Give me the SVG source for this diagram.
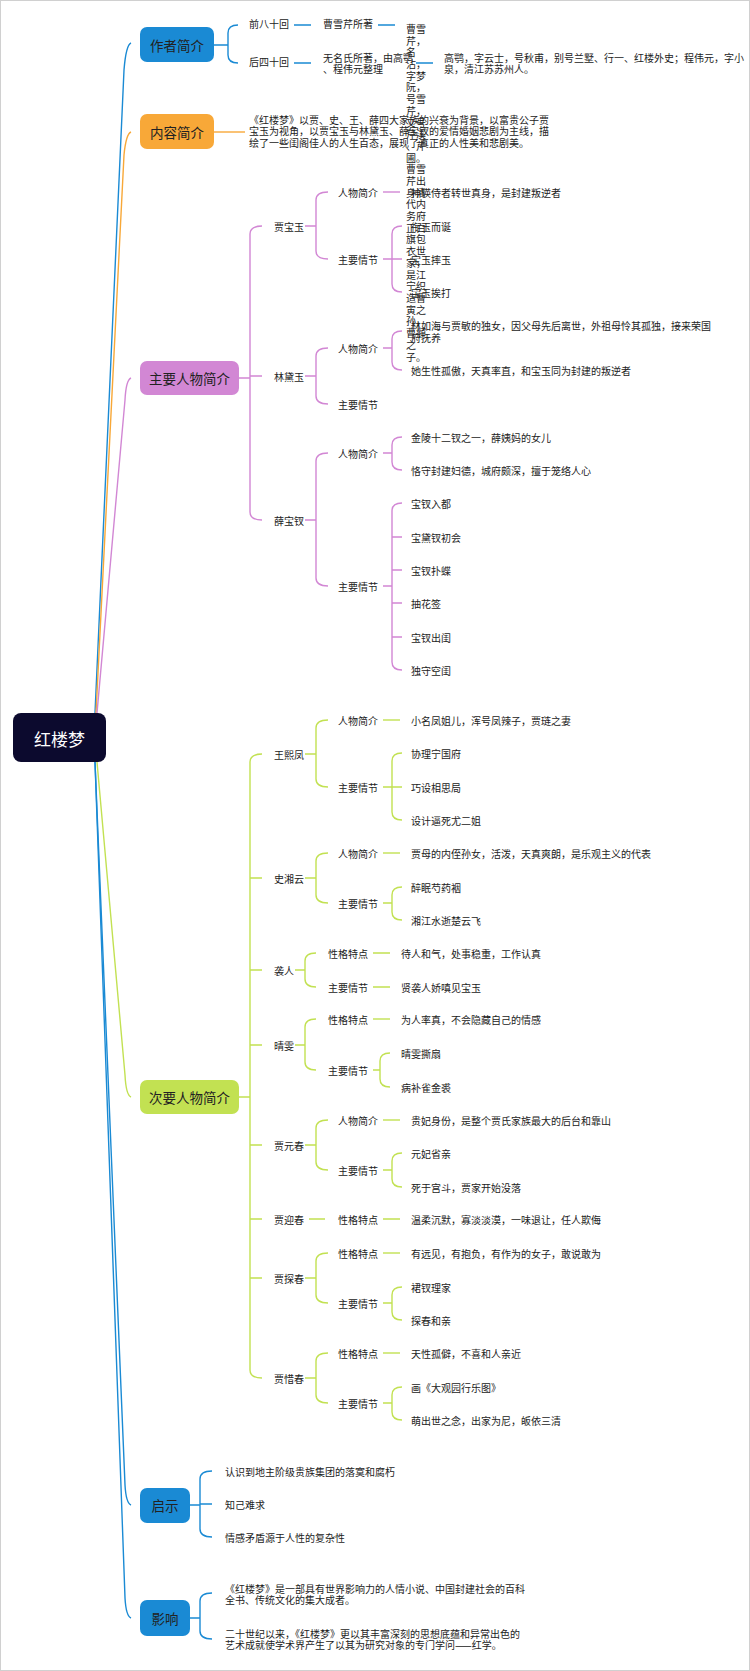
<svg xmlns="http://www.w3.org/2000/svg" width="750" height="1671" viewBox="0 0 750 1671">
<style>
text{font-family:"Noto Sans CJK SC","Liberation Sans",sans-serif;fill:#222;dominant-baseline:central}
.t{font-size:10px}
.b{font-size:13.5px}
.c path{fill:none;stroke-width:1.4}
.bl path{stroke:#1a8ad4}.or path{stroke:#f8a838}.pu path{stroke:#d287d4}.gr path{stroke:#c2e152}
</style>
<rect x="0.5" y="0.5" width="749" height="1670" fill="#fff" stroke="#d0d0d0"/>
<g id="connectors" class="c">
<g class="bl">
<path d="M95 713 L124 70 Q126 45 131 43"/>
<path d="M95 762 L125 1485 Q126 1503 131 1505"/>
<path d="M95 762 L125 1598 Q126 1616 131 1618"/>
<path d="M214 45 H228 M238 25 Q228 25 228 33 V55 Q228 63 238 63"/>
<path d="M294 25 H311 M378 25 H395 M294 63 H311 M416 63 H433"/>
<path d="M190 1505 H200 M212 1471 Q200 1471 200 1479 V1529 Q200 1537 212 1537 M200 1504 H212"/>
<path d="M190 1618 H200 M212 1593 Q200 1593 200 1601 V1631 Q200 1639 212 1639"/>
</g>
<g class="or">
<path d="M96 713 L124 155 Q126 134 131 132"/>
<path d="M214 132 H245"/>
</g>
<g class="pu">
<path d="M97 713 L125 400 Q126 380 131 378"/>
<path d="M239 378 H250 M262 226 Q250 226 250 234 V512 Q250 520 262 520 M250 376 H262"/>
<path d="M305 226 H316 M328 192 Q316 192 316 200 V251 Q316 259 328 259"/>
<path d="M383 192 H400"/>
<path d="M383 259 H392 M402 226 Q392 226 392 234 V284 Q392 292 402 292 M392 259 H402"/>
<path d="M305 376 H316 M328 348 Q316 348 316 356 V396 Q316 404 328 404"/>
<path d="M383 348 H392 M402 331 Q392 331 392 339 V362 Q392 370 402 370"/>
<path d="M305 520 H316 M328 453 Q316 453 316 461 V578 Q316 586 328 586"/>
<path d="M383 453 H392 M402 437 Q392 437 392 445 V462 Q392 470 402 470"/>
<path d="M383 586 H392 M402 503 Q392 503 392 511 V662 Q392 670 402 670 M392 537 H402 M392 570 H402 M392 603 H402 M392 637 H402"/>
</g>
<g class="gr">
<path d="M97 762 L125 1075 Q126 1095 131 1097"/>
<path d="M239 1097 H250 M262 754 Q250 754 250 762 V1370 Q250 1378 262 1378 M250 878 H262 M250 970 H262 M250 1045 H262 M250 1145 H262 M250 1219 H262 M250 1278 H262"/>
<path d="M305 754 H316 M328 720 Q316 720 316 728 V779 Q316 787 328 787"/>
<path d="M383 720 H400"/>
<path d="M383 787 H392 M402 753 Q392 753 392 761 V812 Q392 820 402 820 M392 787 H402"/>
<path d="M305 878 H316 M328 853 Q316 853 316 861 V895 Q316 903 328 903"/>
<path d="M383 853 H400"/>
<path d="M383 903 H392 M402 887 Q392 887 392 895 V912 Q392 920 402 920"/>
<path d="M295 970 H305 M316 953 Q305 953 305 961 V979 Q305 987 316 987"/>
<path d="M373 953 H390 M373 987 H390"/>
<path d="M295 1045 H305 M316 1019 Q305 1019 305 1027 V1062 Q305 1070 316 1070"/>
<path d="M373 1019 H390"/>
<path d="M373 1070 H380 M390 1053 Q380 1053 380 1061 V1079 Q380 1087 390 1087"/>
<path d="M305 1145 H316 M328 1120 Q316 1120 316 1128 V1162 Q316 1170 328 1170"/>
<path d="M383 1120 H400"/>
<path d="M383 1170 H392 M402 1153 Q392 1153 392 1161 V1179 Q392 1187 402 1187"/>
<path d="M309 1219 H325 M383 1219 H400"/>
<path d="M305 1278 H316 M328 1253 Q316 1253 316 1261 V1295 Q316 1303 328 1303"/>
<path d="M383 1253 H400"/>
<path d="M383 1303 H392 M402 1287 Q392 1287 392 1295 V1312 Q392 1320 402 1320"/>
<path d="M305 1378 H316 M328 1353 Q316 1353 316 1361 V1395 Q316 1403 328 1403"/>
<path d="M383 1353 H400"/>
<path d="M383 1403 H392 M402 1387 Q392 1387 392 1395 V1412 Q392 1420 402 1420"/>
</g>
</g>
<g id="root"><rect x="13" y="713" width="93" height="49" rx="8" fill="#0c0a2e"/><text x="59.5" y="738" font-size="17" text-anchor="middle" style="fill:#fff">红楼梦</text></g>
<g id="author"><rect x="140" y="27" width="74" height="35" rx="7" fill="#1a8ad4"/><text class="b" x="177" y="45" text-anchor="middle">作者简介</text>
<text class="t" x="249" y="23">前八十回</text><text class="t" x="323" y="23">曹雪芹所著</text>
<text class="t" x="249" y="61">后四十回</text><text class="t" x="323" y="57">无名氏所著，由高鹗</text><text class="t" x="323" y="68">、程伟元整理</text>
<text class="t" x="444" y="57">高鹗，字云士，号秋甫，别号兰墅、行一、红楼外史；程伟元，字小</text><text class="t" x="444" y="68">泉，清江苏苏州人。</text>
<g>
<text class="t" x="406" y="28">曹雪</text><text class="t" x="406" y="40">芹，</text><text class="t" x="406" y="51">名</text><text class="t" x="406" y="63">沾，</text><text class="t" x="406" y="75">字梦</text><text class="t" x="406" y="86">阮，</text><text class="t" x="406" y="98">号雪</text><text class="t" x="406" y="110">芹，</text><text class="t" x="406" y="122">又号</text><text class="t" x="406" y="133">芹溪</text><text class="t" x="406" y="145">、芹</text><text class="t" x="406" y="157">圃。</text><text class="t" x="406" y="168">曹雪</text><text class="t" x="406" y="180">芹出</text><text class="t" x="406" y="192">身清</text><text class="t" x="406" y="203">代内</text><text class="t" x="406" y="215">务府</text><text class="t" x="406" y="227">正白</text><text class="t" x="406" y="238">旗包</text><text class="t" x="406" y="250">衣世</text><text class="t" x="406" y="262">家，</text><text class="t" x="406" y="274">是江</text><text class="t" x="406" y="285">宁织</text><text class="t" x="406" y="297">造曹</text><text class="t" x="406" y="309">寅之</text><text class="t" x="406" y="320">孙，</text><text class="t" x="406" y="332">曹頫</text><text class="t" x="406" y="344">之</text><text class="t" x="406" y="356">子。</text>
</g></g>
<g id="content"><rect x="140" y="114" width="74" height="35" rx="7" fill="#f8a838"/><text class="b" x="177" y="132" text-anchor="middle">内容简介</text>
<text class="t" x="249" y="119">《红楼梦》以贾、史、王、薛四大家族的兴衰为背景，以富贵公子贾</text><text class="t" x="249" y="130">宝玉为视角，以贾宝玉与林黛玉、薛宝钗的爱情婚姻悲剧为主线，描</text><text class="t" x="249" y="142">绘了一些闺阁佳人的人生百态，展现了真正的人性美和悲剧美。</text></g>
<g id="main"><rect x="140" y="361" width="99" height="34" rx="7" fill="#d287d4"/><text class="b" x="189.5" y="378" text-anchor="middle">主要人物简介</text>
<text class="t" x="274" y="226">贾宝玉</text><text class="t" x="338" y="192">人物简介</text><text class="t" x="411" y="192">神瑛侍者转世真身，是封建叛逆者</text>
<text class="t" x="338" y="259">主要情节</text><text class="t" x="411" y="226">衔玉而诞</text><text class="t" x="411" y="259">宝玉摔玉</text><text class="t" x="411" y="292">宝玉挨打</text>
<text class="t" x="274" y="376">林黛玉</text><text class="t" x="338" y="348">人物简介</text><text class="t" x="411" y="325">林如海与贾敏的独女，因父母先后离世，外祖母怜其孤独，接来荣国</text><text class="t" x="411" y="337">府抚养</text><text class="t" x="411" y="370">她生性孤傲，天真率直，和宝玉同为封建的叛逆者</text>
<text class="t" x="338" y="404">主要情节</text>
<text class="t" x="274" y="520">薛宝钗</text><text class="t" x="338" y="453">人物简介</text><text class="t" x="411" y="437">金陵十二钗之一，薛姨妈的女儿</text><text class="t" x="411" y="470">恪守封建妇德，城府颇深，擅于笼络人心</text>
<text class="t" x="338" y="586">主要情节</text><text class="t" x="411" y="503">宝钗入都</text><text class="t" x="411" y="537">宝黛钗初会</text><text class="t" x="411" y="570">宝钗扑蝶</text><text class="t" x="411" y="603">抽花签</text><text class="t" x="411" y="637">宝钗出闺</text><text class="t" x="411" y="670">独守空闺</text></g>
<g id="minor"><rect x="140" y="1080" width="99" height="34" rx="7" fill="#c2e152"/><text class="b" x="189.5" y="1097" text-anchor="middle">次要人物简介</text>
<text class="t" x="274" y="754">王熙凤</text><text class="t" x="338" y="720">人物简介</text><text class="t" x="411" y="720">小名凤姐儿，浑号凤辣子，贾琏之妻</text>
<text class="t" x="338" y="787">主要情节</text><text class="t" x="411" y="753">协理宁国府</text><text class="t" x="411" y="787">巧设相思局</text><text class="t" x="411" y="820">设计逼死尤二姐</text>
<text class="t" x="274" y="878">史湘云</text><text class="t" x="338" y="853">人物简介</text><text class="t" x="411" y="853">贾母的内侄孙女，活泼，天真爽朗，是乐观主义的代表</text>
<text class="t" x="338" y="903">主要情节</text><text class="t" x="411" y="887">醉眠芍药裀</text><text class="t" x="411" y="920">湘江水逝楚云飞</text>
<text class="t" x="274" y="970">袭人</text><text class="t" x="328" y="953">性格特点</text><text class="t" x="401" y="953">待人和气，处事稳重，工作认真</text>
<text class="t" x="328" y="987">主要情节</text><text class="t" x="401" y="987">贤袭人娇嗔见宝玉</text>
<text class="t" x="274" y="1045">晴雯</text><text class="t" x="328" y="1019">性格特点</text><text class="t" x="401" y="1019">为人率真，不会隐藏自己的情感</text>
<text class="t" x="328" y="1070">主要情节</text><text class="t" x="401" y="1053">晴雯撕扇</text><text class="t" x="401" y="1087">病补雀金裘</text>
<text class="t" x="274" y="1145">贾元春</text><text class="t" x="338" y="1120">人物简介</text><text class="t" x="411" y="1120">贵妃身份，是整个贾氏家族最大的后台和靠山</text>
<text class="t" x="338" y="1170">主要情节</text><text class="t" x="411" y="1153">元妃省亲</text><text class="t" x="411" y="1187">死于宫斗，贾家开始没落</text>
<text class="t" x="274" y="1219">贾迎春</text><text class="t" x="338" y="1219">性格特点</text><text class="t" x="411" y="1219">温柔沉默，寡淡淡漠，一味退让，任人欺侮</text>
<text class="t" x="274" y="1278">贾探春</text><text class="t" x="338" y="1253">性格特点</text><text class="t" x="411" y="1253">有远见，有抱负，有作为的女子，敢说敢为</text>
<text class="t" x="338" y="1303">主要情节</text><text class="t" x="411" y="1287">裙钗理家</text><text class="t" x="411" y="1320">探春和亲</text>
<text class="t" x="274" y="1378">贾惜春</text><text class="t" x="338" y="1353">性格特点</text><text class="t" x="411" y="1353">天性孤僻，不喜和人亲近</text>
<text class="t" x="338" y="1403">主要情节</text><text class="t" x="411" y="1387">画《大观园行乐图》</text><text class="t" x="411" y="1420">萌出世之念，出家为尼，皈依三清</text></g>
<g id="insight"><rect x="140" y="1488" width="50" height="35" rx="7" fill="#1a8ad4"/><text class="b" x="165" y="1505" text-anchor="middle">启示</text>
<text class="t" x="225" y="1471">认识到地主阶级贵族集团的落寞和腐朽</text><text class="t" x="225" y="1504">知己难求</text><text class="t" x="225" y="1537">情感矛盾源于人性的复杂性</text></g>
<g id="influence"><rect x="140" y="1600" width="50" height="36" rx="7" fill="#1a8ad4"/><text class="b" x="165" y="1618" text-anchor="middle">影响</text>
<text class="t" x="225" y="1588">《红楼梦》是一部具有世界影响力的人情小说、中国封建社会的百科</text><text class="t" x="225" y="1599">全书、传统文化的集大成者。</text>
<text class="t" x="225" y="1633">二十世纪以来，《红楼梦》更以其丰富深刻的思想底蕴和异常出色的</text><text class="t" x="225" y="1644">艺术成就使学术界产生了以其为研究对象的专门学问——红学。</text></g>
</svg>
